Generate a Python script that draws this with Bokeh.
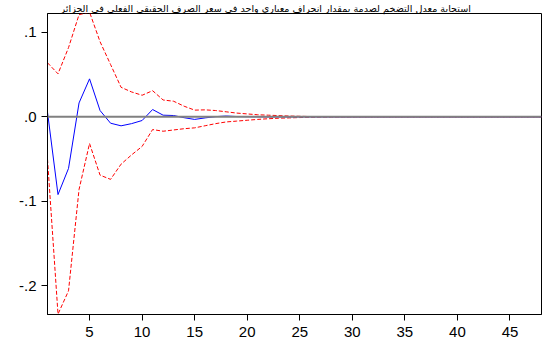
from bokeh.plotting import figure
from bokeh.models import Title, Range1d, FixedTicker, Span
from bokeh.embed import file_html
from bokeh.resources import INLINE

periods = list(range(1, 49))
response = [0.0055, -0.092, -0.061, 0.0165, 0.045, 0.0075, -0.0075, -0.0106, -0.008, -0.0043,
            0.0087, 0.002, 0.0016, -0.001, -0.003, -0.0012, 0.0003, 0.001, 0.0004, 0.0002,
            0.0001, 0.0, 0.0, 0.0, 0.0, 0.0, 0.0, 0.0, 0.0, 0.0,
            0.0, 0.0, 0.0, 0.0, 0.0, 0.0, 0.0, 0.0, 0.0, 0.0,
            0.0, 0.0, 0.0, 0.0, 0.0, 0.0, 0.0, 0.0]
upper = [0.064, 0.051, 0.082, 0.121, 0.124, 0.089, 0.062, 0.035, 0.0295, 0.0256,
         0.031, 0.020, 0.0185, 0.0126, 0.008, 0.0083, 0.0075, 0.006, 0.0045, 0.0035,
         0.0025, 0.002, 0.0015, 0.001, 0.0007, 0.0004, 0.0003, 0.0002, 0.0001, 0.0001,
         0.0, 0.0, 0.0, 0.0, 0.0, 0.0, 0.0, 0.0, 0.0, 0.0,
         0.0, 0.0, 0.0, 0.0, 0.0, 0.0, 0.0, 0.0]
lower = [-0.050, -0.2335, -0.206, -0.086, -0.0315, -0.069, -0.074, -0.056, -0.045, -0.035,
         -0.015, -0.017, -0.0155, -0.014, -0.013, -0.0105, -0.008, -0.006, -0.005, -0.004,
         -0.003, -0.0022, -0.0016, -0.0012, -0.0008, -0.0005, -0.0003, -0.0002, -0.0001, -0.0001,
         0.0, 0.0, 0.0, 0.0, 0.0, 0.0, 0.0, 0.0, 0.0, 0.0,
         0.0, 0.0, 0.0, 0.0, 0.0, 0.0, 0.0, 0.0]
x_ticks = [5, 10, 15, 20, 25, 30, 35, 40, 45]
y_ticks = [0.1, 0.0, -0.1, -0.2]
y_tick_labels = [".1", ".0", "-.1", "-.2"]
title_text = "استجابة معدل التضخم لصدمة بمقدار انحراف معياري واحد في سعر الصرف الحقيقي الفعلي في الجزائر"

p = figure(width=545, height=345, output_backend="svg", toolbar_location=None,
           x_range=Range1d(1, 48), y_range=Range1d(-0.234, 0.1224))
p.min_border_left = 47
p.min_border_right = 4
p.min_border_top = 12
p.min_border_bottom = 31
p.background_fill_color = "white"
p.border_fill_color = "white"
p.outline_line_color = "black"
p.outline_line_width = 1
p.xgrid.visible = False
p.ygrid.visible = False

zero = Span(location=0, dimension="width", line_color="#808080", line_width=2)
p.add_layout(zero)

p.line(periods, upper, line_color="#FF0000", line_width=1, line_dash="4 2")
p.line(periods, lower, line_color="#FF0000", line_width=1, line_dash="4 2")
p.line(periods, response, line_color="#0000FF", line_width=1)

for ax in (p.xaxis[0], p.yaxis[0]):
    ax.axis_line_color = "black"
    ax.major_tick_line_color = "black"
    ax.major_tick_out = 6
    ax.major_tick_in = 0
    ax.minor_tick_line_color = None
    ax.major_label_text_font = "Liberation Sans"
    ax.major_label_text_font_size = "15px"
    ax.major_label_text_color = "black"

p.xaxis[0].ticker = FixedTicker(ticks=x_ticks)
p.xaxis[0].major_label_standoff = 6
p.yaxis[0].ticker = FixedTicker(ticks=y_ticks)
p.yaxis[0].major_label_overrides = {t: l for t, l in zip(y_ticks, y_tick_labels)}
p.yaxis[0].major_label_standoff = 5

title = Title(text=title_text, align="left", offset=13, standoff=0,
              text_font="DejaVu Sans", text_font_size="9.6px",
              text_font_style="normal", text_color="black")
p.add_layout(title, "above")

open("out.html", "w").write(file_html(p, INLINE))
